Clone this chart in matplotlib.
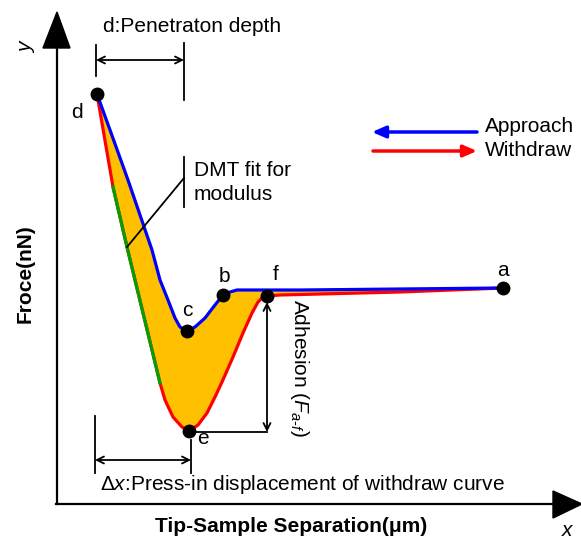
import numpy as np
import matplotlib.pyplot as plt
from matplotlib.patches import Polygon

plt.rcParams['font.family'] = ['Liberation Sans', 'DejaVu Sans']
plt.rcParams['mathtext.fontset'] = 'custom'
plt.rcParams['mathtext.rm'] = 'Liberation Sans'
plt.rcParams['mathtext.it'] = 'Liberation Sans:italic'

# Schematic force curve (pixel-like units, y grows downward)
approach_x = [503, 400, 300, 267, 245, 237, 230, 223, 215, 205, 195, 187, 180, 175, 168, 160, 152, 128, 110, 97]
approach_y = [288, 289, 290, 290, 290, 290, 292, 295, 305, 318, 327, 331, 327, 318, 300, 280, 250, 180, 130, 94]

withdraw_x = [97, 113, 127, 160, 165, 173, 182, 189, 198, 207, 215, 222, 233, 243, 252, 258, 263, 267, 280, 400, 503]
withdraw_y = [94, 187, 247, 383, 400, 417, 427, 431, 425, 413, 397, 382, 357, 333, 313, 302, 297, 296, 295, 292, 288]

dmt_x = [113, 127, 160]
dmt_y = [187, 247, 383]

point_names = ['a', 'b', 'c', 'd', 'e', 'f']
point_x = [503, 223, 187, 97, 189, 267]
point_y = [288, 295, 331, 94, 431, 296]

fig = plt.figure(figsize=(5.81, 5.41), dpi=100)
ax = fig.add_axes([0, 0, 1, 1])
ax.set_xlim(0, 581)
ax.set_ylim(541, 0)
ax.axis('off')

# area between the two curves
ax.fill(approach_x + withdraw_x, approach_y + withdraw_y, color='#FFC000', lw=0)
ax.plot(withdraw_x, withdraw_y, color='#FF0000', lw=2.3, solid_capstyle='round')
ax.plot(dmt_x, dmt_y, color='#00A000', lw=2.3)
ax.plot(approach_x, approach_y, color='#0000FF', lw=2.3, solid_capstyle='round')
ax.plot(point_x, point_y, 'o', color='black', ms=9)

fs = 15
label_pos = {'a': (503, 270), 'b': (224, 277), 'c': (187, 310), 'd': (77, 113),
             'e': (203, 438), 'f': (276, 275)}
for name in point_names:
    ax.text(*label_pos[name], name, fontsize=fs, ha='center', va='center')

# axes with filled arrow heads
ax.plot([57, 57], [504, 45], color='black', lw=1.6)
ax.plot([56, 556], [504, 504], color='black', lw=1.6)
ax.add_patch(Polygon([[43, 48], [70, 48], [57, 12]], closed=True, color='black'))
ax.add_patch(Polygon([[553, 491], [553, 518], [582, 504]], closed=True, color='black'))
ax.text(27, 48, 'y', fontsize=fs, style='italic', rotation=90, ha='center', va='center')
ax.text(567, 530, 'x', fontsize=fs, style='italic', ha='center', va='center')
ax.text(291, 527, 'Tip-Sample Separation(μm)', fontsize=fs, fontweight='bold',
        ha='center', va='center')
ax.text(25, 274, 'Froce(nN)', fontsize=fs, fontweight='bold', rotation=90,
        ha='center', va='center')

dim = dict(arrowstyle='<->,head_length=0.5,head_width=0.25', color='black', lw=1.3,
           shrinkA=0, shrinkB=0)

# penetration depth
ax.plot([96, 96], [45, 76], color='black', lw=1.3)
ax.plot([184, 184], [43, 100], color='black', lw=1.3)
ax.annotate('', xy=(96, 60), xytext=(184, 60), arrowprops=dim)
ax.text(103, 27, 'd:Penetraton depth', fontsize=fs, ha='left', va='center')

# DMT fit pointer
ax.plot([184, 184], [157, 207], color='black', lw=1.3)
ax.plot([184, 127], [178, 247], color='black', lw=1.3)
ax.text(194, 171, 'DMT fit for', fontsize=fs, ha='left', va='center')
ax.text(194, 195, 'modulus', fontsize=fs, ha='left', va='center')

# adhesion
ax.plot([189, 267], [432, 432], color='black', lw=1.3)
ax.annotate('', xy=(267, 302), xytext=(267, 432), arrowprops=dim)
ax.text(300, 368, r'Adhesion ($F_{a\text{-}f}$)', fontsize=fs, rotation=-90,
        ha='center', va='center')

# press-in displacement
ax.plot([95, 95], [416, 473], color='black', lw=1.3)
ax.plot([191, 191], [440, 473], color='black', lw=1.3)
ax.annotate('', xy=(95, 460), xytext=(191, 460), arrowprops=dim)
ax.text(100, 485, r'$\mathit{\Delta x}$:Press-in displacement of withdraw curve', fontsize=fs,
        ha='left', va='center')

# legend arrows
ax.annotate('', xy=(372, 132), xytext=(477, 132),
            arrowprops=dict(arrowstyle='-|>,head_length=0.8,head_width=0.35', color='#0000FF',
                            lw=2.5, shrinkA=0, shrinkB=0))
ax.annotate('', xy=(477, 151), xytext=(373, 151),
            arrowprops=dict(arrowstyle='-|>,head_length=0.8,head_width=0.35', color='#FF0000',
                            lw=2.5, shrinkA=0, shrinkB=0))
ax.text(485, 126, 'Approach', fontsize=fs, ha='left', va='center')
ax.text(485, 150, 'Withdraw', fontsize=fs, ha='left', va='center')

fig.savefig('out.png', dpi=100)
